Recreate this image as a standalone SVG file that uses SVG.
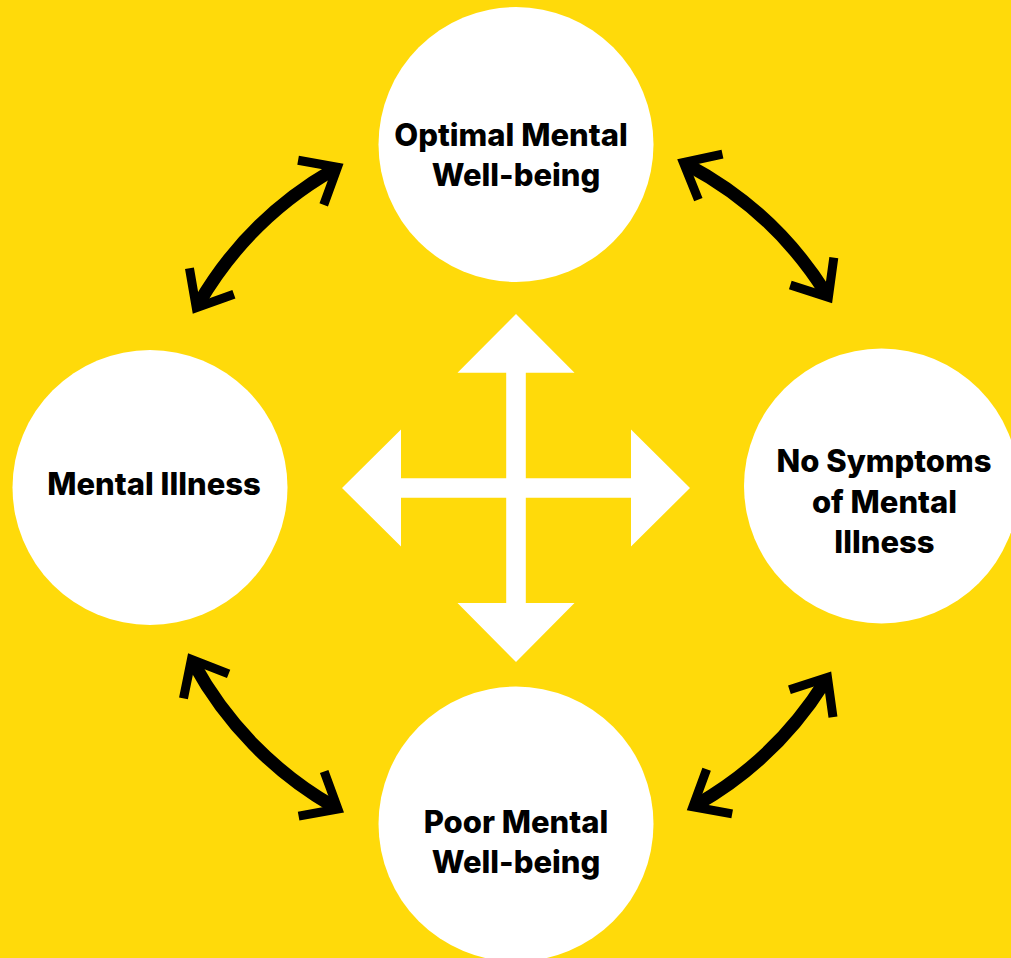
<svg xmlns="http://www.w3.org/2000/svg" width="1011" height="958" viewBox="0 0 1011 958">
<style>
.node{fill:#FFFFFF}
.lbl{font-family:Inter,"Noto Sans","Liberation Sans",sans-serif;font-weight:800;font-size:31px;fill:#000;text-anchor:middle}
.arc{fill:none;stroke:#000;stroke-width:13;marker-start:url(#chev);marker-end:url(#chev)}
</style>
<defs>
<marker id="chev" markerUnits="userSpaceOnUse" markerWidth="100" markerHeight="100" viewBox="-50 -50 100 100" refX="-5" refY="0" orient="auto-start-reverse" overflow="visible">
<path d="M -30.6 -25.7 L 0 0 L -30.6 25.7" fill="none" stroke="#000" stroke-width="9" stroke-miterlimit="10"/>
</marker>
</defs>
<rect x="0" y="0" width="1011" height="958" fill="#FFDA0A"/>
<g id="cross">
<path d="M 516 314 L 574.5 372.7 L 525.8 372.7 L 525.8 478.2 L 631 478.2 L 631 429.5 L 690 488 L 631 546.5 L 631 497.8 L 525.8 497.8 L 525.8 603 L 574.5 603 L 516 662 L 457.5 603 L 506.2 603 L 506.2 497.8 L 401 497.8 L 401 546.5 L 342 488 L 401 429.5 L 401 478.2 L 506.2 478.2 L 506.2 372.7 L 457.5 372.7 Z" fill="#FFFFFF"/>
</g>
<g id="node-top">
<circle class="node" cx="516" cy="144.5" r="137.5"/>
<text class="lbl" x="511" y="146">Optimal Mental</text>
<text class="lbl" x="516" y="186">Well-being</text>
</g>
<g id="node-left">
<circle class="node" cx="150" cy="487.5" r="137.5"/>
<text class="lbl" x="154" y="495">Mental Illness</text>
</g>
<g id="node-right">
<circle class="node" cx="881.5" cy="486" r="137.5"/>
<text class="lbl" x="884" y="472">No Symptoms</text>
<text class="lbl" x="884.5" y="513">of Mental</text>
<text class="lbl" x="884.5" y="553">Illness</text>
</g>
<g id="node-bottom">
<circle class="node" cx="516" cy="824" r="137.5"/>
<text class="lbl" x="516" y="833">Poor Mental</text>
<text class="lbl" x="516" y="873">Well-being</text>
</g>
<g id="connectors">
<path class="arc" d="M 198.8 303.4 A 367 367 0 0 1 333.1 169.8"/>
<path class="arc" d="M 687.8 164.9 A 366 366 0 0 1 825.7 293.0"/>
<path class="arc" d="M 333.6 806.5 A 367 367 0 0 1 193.8 663.7"/>
<path class="arc" d="M 824.8 681.7 A 364.5 364.5 0 0 1 697.2 804.3"/>
</g>
</svg>
